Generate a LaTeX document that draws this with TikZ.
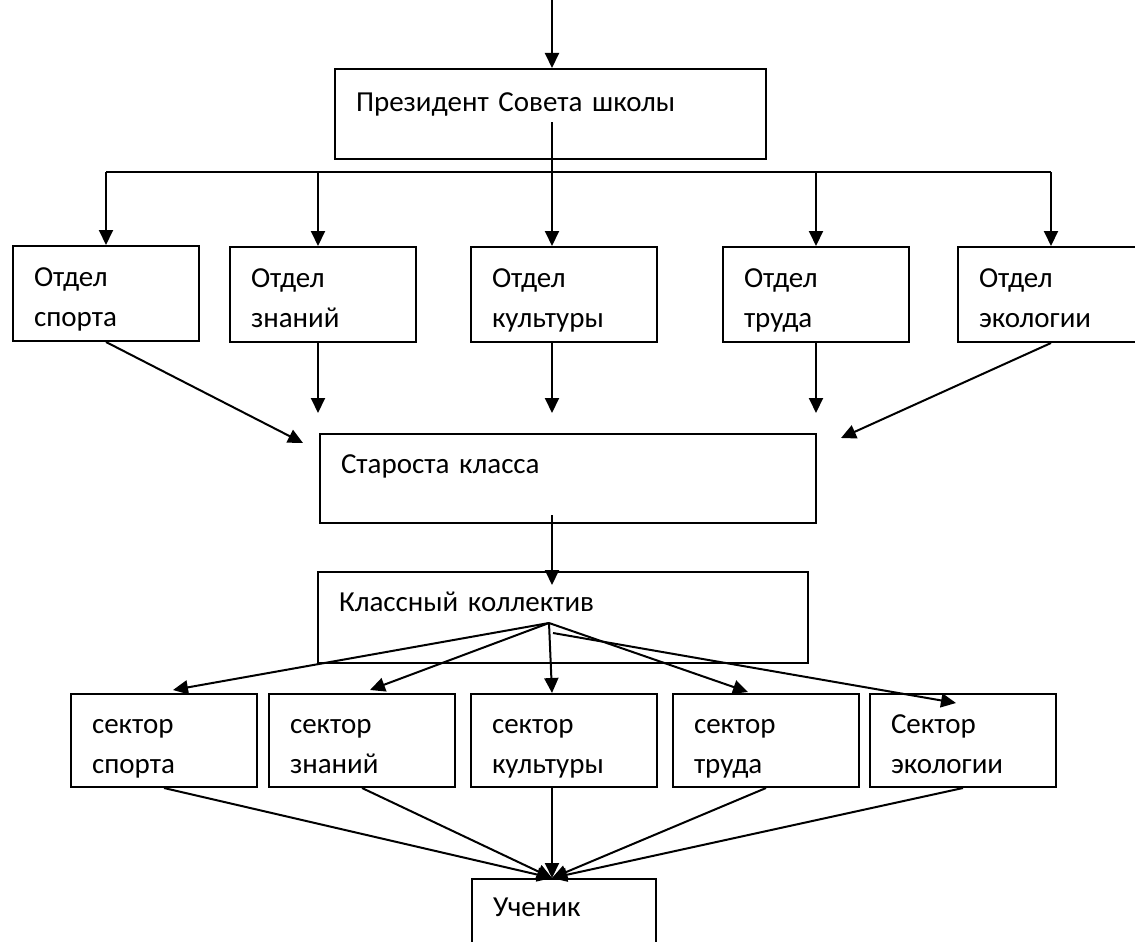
\documentclass[tikz,border=0pt]{standalone}
\usepackage{fontspec}
\setmainfont{Carlito}
\usepackage{tikz}
\usetikzlibrary{arrows.meta, positioning}
\tikzstyle{blok} = [draw, line width=2pt, rectangle, anchor=north west, inner xsep=21pt, inner ysep=0pt, align=left, font=\fontsize{29}{40}\selectfont]
\tikzstyle{otdel} = [blok, text width=144pt, text height=40pt, text depth=55pt]
\tikzstyle{sektor} = [blok, text width=144pt, text height=39pt, text depth=54pt]
\tikzstyle{strelka} = [line width=2pt, -{Triangle[length=15pt,width=14pt]}]

\begin{document}
\begin{tikzpicture}[x=1pt, y=-1pt]
	\clip (0,0) rectangle (1135,942);
	\node [blok, text width=389pt, text height=42pt, text depth=48pt] (pres) at (334,68) {Президент Совета школы};
	\node [otdel] (otd1) at (12,245) {Отдел\\спорта};
	\node [otdel] (otd2) at (229,246) {Отдел\\знаний};
	\node [otdel] (otd3) at (470,246) {Отдел\\культуры};
	\node [otdel] (otd4) at (722,246) {Отдел\\труда};
	\node [otdel] (otd5) at (957,246) {Отдел\\экологии};
	\node [blok, text width=454pt, text height=39pt, text depth=50pt] (star) at (319,433) {Староста класса};
	\node [blok, text width=448pt, text height=39pt, text depth=52pt] (koll) at (317,571) {Классный коллектив};
	\node [sektor] (sek1) at (70,693) {сектор\\спорта};
	\node [sektor] (sek2) at (268,693) {сектор\\знаний};
	\node [sektor] (sek3) at (470,693) {сектор\\культуры};
	\node [sektor] (sek4) at (672,693) {сектор\\труда};
	\node [sektor] (sek5) at (869,693) {Сектор\\экологии};
	\node [blok, text width=142pt, text height=37pt, text depth=80pt] (uch) at (471,878) {Ученик};

	% ось и шина
	\coordinate (vhod) at (552,0);
	\coordinate (presniz) at (552,122);
	\coordinate (shina) at (552,172);
	\coordinate (kstart) at (552,515);
	\coordinate (veer) at (549,623);
	\coordinate (veer2) at (553,633);

	\draw[strelka] (vhod) -- (vhod |- pres.north);
	\draw[line width=2pt] (presniz) -- (shina);
	\draw[line width=2pt] (otd1.north |- shina) -- (otd5.north |- shina);
	\foreach \n/\dx in {1/0, 2/-5, 4/0, 5/0}
		\draw[strelka] ([xshift=\dx pt]otd\n.north |- shina) -- ([xshift=\dx pt]otd\n.north);
	\draw[strelka] (shina) -- (shina |- otd3.north);

	% отделы -> староста
	\draw[strelka] (otd1.south) -- ([xshift=-16pt,yshift=-10pt]star.north west);
	\draw[strelka] ([xshift=-5pt]otd2.south) -- +(0,70);
	\draw[strelka] (vhod |- otd3.south) -- +(0,70);
	\draw[strelka] (otd4.south) -- +(0,70);
	\draw[strelka] (otd5.south) -- ([xshift=24pt,yshift=-5pt]star.north east);

	\draw[strelka] (kstart) -- +(0,70);

	% коллектив -> секторы
	\draw[strelka] (veer) -- ([xshift=9pt,yshift=3pt]sek1.north);
	\draw[strelka] (veer) -- ([xshift=8pt,yshift=3pt]sek2.north);
	\draw[strelka] (veer) -- (vhod |- sek3.north);
	\draw[strelka] (veer) -- ([xshift=-18pt,yshift=1pt]sek4.north);
	\draw[strelka] (veer2) -- ([xshift=-7pt,yshift=-10pt]sek5.north);

	% секторы -> ученик
	\foreach \n in {1,2,4,5}
		\draw[strelka] (sek\n.south) -- (vhod |- uch.north);
	\draw[strelka] (vhod |- sek3.south) -- (vhod |- uch.north);
\end{tikzpicture}
\end{document}
